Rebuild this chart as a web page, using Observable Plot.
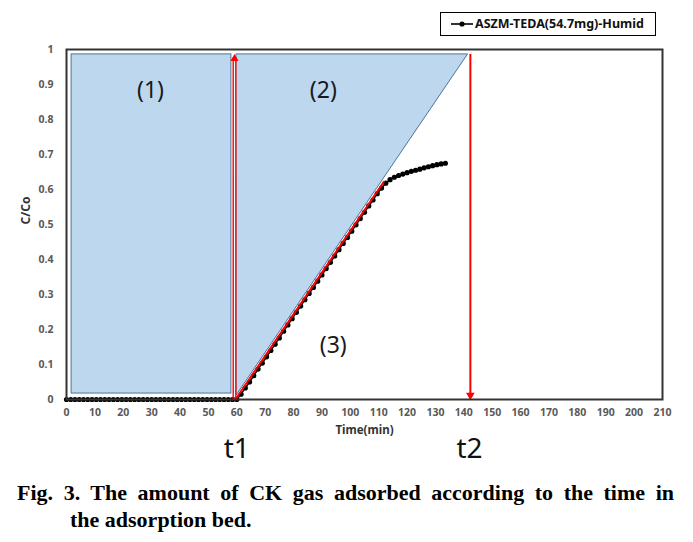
<!DOCTYPE html>
<html>
<head>
<meta charset="utf-8">
<script src="https://cdn.jsdelivr.net/npm/d3@7"></script>
<script src="https://cdn.jsdelivr.net/npm/@observablehq/plot@0.6"></script>
<style>
  html, body { margin: 0; padding: 0; background: #fff; }
  #wrap { position: relative; width: 693px; height: 542px; overflow: hidden; }
  #legend { position: absolute; left: 440px; top: 12px; width: 214px; height: 22px; border: 1px solid #000; background: #fff;
    font-family: "Noto Sans", sans-serif; font-weight: bold; font-size: 12.5px; color: #111; }
  #legend svg { position: absolute; left: 10px; top: 5px; }
  #legend span { position: absolute; left: 34px; top: 2px; white-space: nowrap; }
  #caption { position: absolute; left: 17px; top: 479px; width: 657px; font-family: "Liberation Serif", "Times New Roman", serif;
    font-weight: bold; font-size: 22px; line-height: 27px; color: #000; }
  #caption .l1 { text-align: justify; text-align-last: justify; }
  #caption .l2 { padding-left: 53px; }
</style>
</head>
<body>
<div id="wrap">
  <div id="chart"></div>
  <div id="legend"><svg width="24" height="12"><line x1="0" y1="6" x2="22" y2="6" stroke="#000" stroke-width="1.6"/><circle cx="11" cy="6" r="2.6" fill="#000"/></svg><span>ASZM-TEDA(54.7mg)-Humid</span></div>
  <div id="caption"><div class="l1">Fig. 3. The amount of CK gas adsorbed according to the time in</div><div class="l2">the adsorption bed.</div></div>
</div>
<script>
// ---- data ----
const seriesName = "ASZM-TEDA(54.7mg)-Humid";
const timeMin = [0,1.5,3,4.5,6,7.5,9,10.5,12,13.5,15,16.5,18,19.5,21,22.5,24,25.5,27,28.5,
  30,31.5,33,34.5,36,37.5,39,40.5,42,43.5,45,46.5,48,49.5,51,52.5,54,55.5,57,58.5,
  60,61.5,63,64.5,66,67.5,69,70.5,72,73.5,75,76.5,78,79.5,81,82.5,84,85.5,87,88.5,
  90,91.5,93,94.5,96,97.5,99,100.5,102,103.5,105,106.5,108,109.5,111,112.5,114,115.5,117,118.5,
  120,121.5,123,124.5,126,127.5,129,130.5,132,133.5];
const cOverC0 = [0,0,0,0,0,0,0,0,0,0,0,0,0,0,0,0,0,0,0,0,
  0,0,0,0,0,0,0,0,0,0,0,0,0,0,0,0,0,0,0,0,
  0.000,0.015,0.033,0.050,0.068,0.087,0.104,0.122,0.140,0.158,0.176,0.195,0.213,0.231,0.249,0.267,0.285,0.303,0.320,0.338,
  0.356,0.374,0.392,0.410,0.428,0.446,0.463,0.481,0.499,0.517,0.535,0.553,0.570,0.588,0.604,0.618,0.628,0.635,0.640,0.644,
  0.648,0.652,0.655,0.658,0.662,0.665,0.668,0.671,0.673,0.675];

const xTicks = [0,10,20,30,40,50,60,70,80,90,100,110,120,130,140,150,160,170,180,190,200,210];
const yTicks = [0,0.1,0.2,0.3,0.4,0.5,0.6,0.7,0.8,0.9,1];
const yTickLabels = ["0","0.1","0.2","0.3","0.4","0.5","0.6","0.7","0.8","0.9","1"];

// annotation geometry (data coordinates)
const region1X = [1.8, 58.1];
const region1Y = [0.017, 0.986];
const region2X = [60, 141.5];
const region2YLow = [0.012, 0.986];
const region2YHigh = [0.986, 0.986];
const fitLineX = [59.5, 111.8];
const fitLineY = [0, 0.622];
const t1Time = 59.2;
const t2Time = 142.3;
const arrowTop = 0.986;
const regionLabels = ["(1)", "(2)", "(3)"];
const regionLabelX = [29.6, 90.5, 94];
const regionLabelY = [0.883, 0.883, 0.154];
const timeMarkLabels = ["t1", "t2"];
const timeMarkX = [60, 142];

const points = timeMin.map((t, i) => ({t, c: cOverC0[i]}));
const r2 = region2X.map((x, i) => ({x, lo: region2YLow[i], hi: region2YHigh[i]}));
const fit = fitLineX.map((x, i) => ({x, y: fitLineY[i]}));
const rl = regionLabels.map((s, i) => ({s, x: regionLabelX[i], y: regionLabelY[i]}));
const tm = timeMarkLabels.map((s, i) => ({s, x: timeMarkX[i]}));

const fillBlue = "#bdd7ee";
const edgeBlue = "#4f739c";
const red = "#ff0000";

const chart = Plot.plot({
  width: 693,
  height: 475,
  marginLeft: 66,
  marginRight: 31,
  marginTop: 49,
  marginBottom: 76,
  style: {fontFamily: "Noto Sans, sans-serif", background: "#fff"},
  x: {domain: [0, 210]},
  y: {domain: [0, 1]},
  marks: [
    Plot.rect([0], {x1: region1X[0], x2: region1X[1], y1: region1Y[0], y2: region1Y[1], fill: fillBlue, stroke: edgeBlue, strokeWidth: 1}),
    Plot.areaY(r2, {x: "x", y1: "lo", y2: "hi", fill: fillBlue, stroke: edgeBlue, strokeWidth: 1}),
    Plot.line(points, {x: "t", y: "c", stroke: "#000", strokeWidth: 1.5}),
    Plot.dot(points, {x: "t", y: "c", r: 2.6, fill: "#000"}),
    Plot.line(fit, {x: "x", y: "y", stroke: red, strokeWidth: 2}),
    // t1 arrow (hollow red)
    Plot.ruleX([t1Time], {y1: 0, y2: arrowTop - 0.01, stroke: red, strokeWidth: 4}),
    Plot.ruleX([t1Time], {y1: 0.005, y2: arrowTop - 0.015, stroke: "#fff", strokeWidth: 1.2}),
    Plot.dot([t1Time], {x: d => d, y: arrowTop - 0.012, symbol: "triangle", r: 3, fill: red}),
    // t2 arrow
    Plot.ruleX([t2Time], {y1: 0.01, y2: arrowTop, stroke: red, strokeWidth: 2}),
    Plot.dot([t2Time], {x: d => d, y: 0.012, symbol: "triangle", rotate: 180, r: 3.2, fill: red}),
    Plot.frame({stroke: "#333", strokeWidth: 2}),
    Plot.axisX({ticks: xTicks, tickSize: 0, tickPadding: 9, fontWeight: "bold", fill: "#595959", fontSize: 10.5, label: null}),
    Plot.axisY({ticks: yTicks, tickFormat: (d, i) => yTickLabels[yTicks.indexOf(d)], tickSize: 0, tickPadding: 13, fontWeight: "bold", fill: "#595959", fontSize: 10.5, label: null}),
    Plot.text(["C/Co"], {frameAnchor: "left", dx: -40, rotate: -90, fontWeight: "bold", fontSize: 12, fill: "#333"}),
    Plot.text(["Time(min)"], {frameAnchor: "bottom", dy: 34, fontWeight: "bold", fontSize: 11.5, fill: "#333"}),
    Plot.text(rl, {x: "x", y: "y", text: "s", fontSize: 23, fill: "#1a1a1a"}),
    Plot.text(tm, {x: "x", text: "s", frameAnchor: "bottom", dy: 58, fontSize: 28, fill: "#111"})
  ]
});
document.getElementById("chart").appendChild(chart);
</script>
</body>
</html>
